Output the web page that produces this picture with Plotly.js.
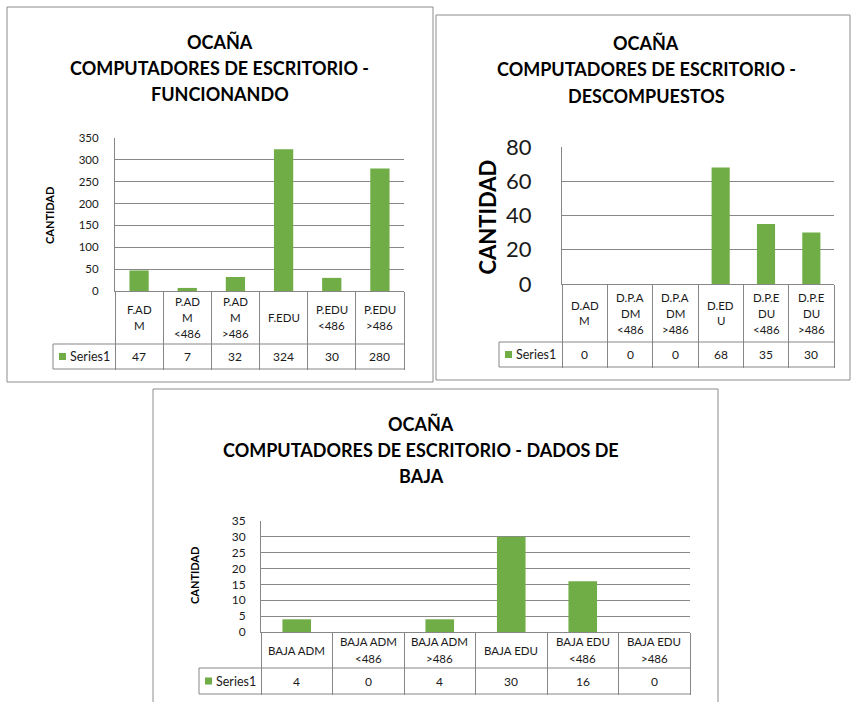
<!DOCTYPE html>
<html><head><meta charset="utf-8">
<script src="https://cdn.plot.ly/plotly-3.0.1.min.js"></script>
<style>html,body{margin:0;padding:0;background:#fff}#chart{width:851px;height:702px}</style>
</head><body><div id="chart"></div>
<script>
// ---------- DATA ----------
const seriesName = "Series1";

const titleLines1 = ["OCAÑA", "COMPUTADORES DE ESCRITORIO -", "FUNCIONANDO"];
const categories1 = ["F.AD\nM", "P.AD\nM\n<486", "P.AD\nM\n>486", "F.EDU", "P.EDU\n<486", "P.EDU\n>486"];
const values1 = [47, 7, 32, 324, 30, 280];
const yMax1 = 350, yStep1 = 50;

const titleLines2 = ["OCAÑA", "COMPUTADORES DE ESCRITORIO -", "DESCOMPUESTOS"];
const categories2 = ["D.AD\nM", "D.P.A\nDM\n<486", "D.P.A\nDM\n>486", "D.ED\nU", "D.P.E\nDU\n<486", "D.P.E\nDU\n>486"];
const values2 = [0, 0, 0, 68, 35, 30];
const yMax2 = 80, yStep2 = 20;

const titleLines3 = ["OCAÑA", "COMPUTADORES DE ESCRITORIO - DADOS DE", "BAJA"];
const categories3 = ["BAJA ADM", "BAJA ADM\n<486", "BAJA ADM\n>486", "BAJA EDU", "BAJA EDU\n<486", "BAJA EDU\n>486"];
const values3 = [4, 0, 4, 30, 16, 0];
const yMax3 = 35, yStep3 = 5;

const yTitle = "CANTIDAD";

// ---------- STYLE / LAYOUT ----------
const W = 851, H = 702;
const FONT = "Lato, Carlito, Calibri, 'Open Sans', sans-serif";
const GRID = "#878787";
const BORDER = "#8c8c8c";
const GREEN = "#70AD47";
const TXT = "#1a1a1a";
const px = p => p / W;
const py = p => 1 - p / H;

const geoms = [
  {border:[7,7,433,382], plot:[115,138,404,291], catBottom:344, seriesBottom:369, tableLeft:53,
   titleX:220, titleY:[42,68,93.5], titleSize:18, yt:{x:49,y:216,size:11}, tickSize:11.5, standoff:13,
   catSp:16, catFont:11.5, valFont:12, nameFont:12.5},
  {border:[436,15,850,380], plot:[562,147,834,284], catBottom:342, seriesBottom:367, tableLeft:499,
   titleX:646, titleY:[43,68.5,95.5], titleSize:18, yt:{x:487,y:217.5,size:22}, tickSize:22, standoff:25,
   catSp:16, catFont:11.5, valFont:12, nameFont:12.5},
  {border:[153,389,718,712], plot:[261,521,690,632], catBottom:668, seriesBottom:694, tableLeft:199,
   titleX:421, titleY:[423.5,450,475.5], titleSize:18, yt:{x:194,y:576,size:11}, tickSize:12, standoff:12,
   catSp:17, catFont:11.5, valFont:12, nameFont:12.5}
];

const charts = [
  {titles: titleLines1, cats: categories1, vals: values1, ymax: yMax1, dtick: yStep1},
  {titles: titleLines2, cats: categories2, vals: values2, ymax: yMax2, dtick: yStep2},
  {titles: titleLines3, cats: categories3, vals: values3, ymax: yMax3, dtick: yStep3}
];

const esc = s => s.replace(/&/g,'&amp;').replace(/</g,'&lt;').replace(/>/g,'&gt;');

const data = [];
const layout = {
  width: W, height: H, margin:{l:0,r:0,t:0,b:0,pad:0},
  paper_bgcolor:'#fff', plot_bgcolor:'rgba(0,0,0,0)',
  showlegend:false, bargap:0.6,
  font:{family:FONT, color:'#000'},
  shapes:[], annotations:[]
};

charts.forEach((c, i) => {
  const g = geoms[i];
  const n = i === 0 ? '' : String(i + 1);
  const xa = 'x' + n, ya = 'y' + n;
  const [L, T, R, B] = g.plot;

  data.push({
    type:'bar', x: c.cats, y: c.vals, xaxis: xa, yaxis: ya,
    name: seriesName, marker:{color: GREEN, line:{width:0}}, hoverinfo:'skip'
  });

  layout['xaxis' + n] = {
    domain:[px(L), px(R)], anchor: ya, type:'category',
    categoryorder:'array', categoryarray: c.cats, range:[-0.5, c.cats.length - 0.5],
    showgrid:false, zeroline:false, showline:true, linecolor:GRID, linewidth:1,
    ticks:'outside', tickson:'boundaries', ticklen: g.seriesBottom - B, tickcolor:GRID, tickwidth:1,
    showticklabels:false, fixedrange:true
  };
  layout['yaxis' + n] = {
    domain:[py(B), py(T)], anchor: xa, range:[0, c.ymax], tick0:0, dtick:c.dtick,
    showgrid:true, gridcolor:GRID, gridwidth:1, zeroline:false,
    showline:true, linecolor:GRID, linewidth:1, ticks:'',
    tickfont:{family:FONT, size:g.tickSize, color:TXT}, ticklabelstandoff:g.standoff,
    fixedrange:true
  };

  // chart border
  layout.shapes.push({type:'rect', xref:'paper', yref:'paper', layer:'below',
    x0:px(g.border[0]), x1:px(g.border[2]), y0:py(g.border[1]), y1:py(g.border[3]),
    line:{color:BORDER, width:1}, fillcolor:'rgba(0,0,0,0)'});

  // data-table row lines
  [g.catBottom, g.seriesBottom].forEach(yy => layout.shapes.push({type:'line', xref:'paper', yref:'paper',
    x0:px(g.tableLeft), x1:px(R), y0:py(yy), y1:py(yy), line:{color:GRID, width:1}}));
  layout.shapes.push({type:'line', xref:'paper', yref:'paper',
    x0:px(g.tableLeft), x1:px(g.tableLeft), y0:py(g.catBottom), y1:py(g.seriesBottom), line:{color:GRID, width:1}});

  // legend key in table
  const keyY = (g.catBottom + g.seriesBottom) / 2;
  layout.shapes.push({type:'rect', xref:'paper', yref:'paper',
    x0:px(g.tableLeft + 6), x1:px(g.tableLeft + 13), y0:py(keyY - 3.5), y1:py(keyY + 3.5),
    line:{width:0}, fillcolor:GREEN});
  layout.annotations.push({xref:'paper', yref:'paper', x:px(g.tableLeft + 14.5), y:py(keyY),
    xanchor:'left', yanchor:'middle', showarrow:false, text: seriesName,
    font:{family:FONT, size:g.nameFont, color:TXT}});

  // titles
  c.titles.forEach((t, k) => layout.annotations.push({xref:'paper', yref:'paper',
    x:px(g.titleX), y:py(g.titleY[k]), xanchor:'center', yanchor:'middle', showarrow:false,
    text: esc(t), font:{family:FONT, size:g.titleSize, weight:700, color:'#000'}}));

  // y-axis title
  layout.annotations.push({xref:'paper', yref:'paper', x:px(g.yt.x), y:py(g.yt.y),
    xanchor:'center', yanchor:'middle', textangle:-90, showarrow:false, text:yTitle,
    font:{family:FONT, size:g.yt.size, weight:700, color:'#000'}});

  // category labels and values in the data table
  const catMid = (B + g.catBottom) / 2;
  c.cats.forEach((cat, j) => {
    const lines = cat.split('\n');
    lines.forEach((ln, k) => layout.annotations.push({xref: xa, yref:'paper', x: cat,
      y: py(catMid + (k - (lines.length - 1) / 2) * g.catSp), xanchor:'center', yanchor:'middle',
      showarrow:false, text: esc(ln), font:{family:FONT, size:g.catFont, color:TXT}}));
    layout.annotations.push({xref: xa, yref:'paper', x: cat, y: py(keyY),
      xanchor:'center', yanchor:'middle', showarrow:false, text: String(c.vals[j]),
      font:{family:FONT, size:g.valFont, color:TXT}});
  });
});

Plotly.newPlot('chart', data, layout, {staticPlot:true, displayModeBar:false});
</script>
</body></html>
